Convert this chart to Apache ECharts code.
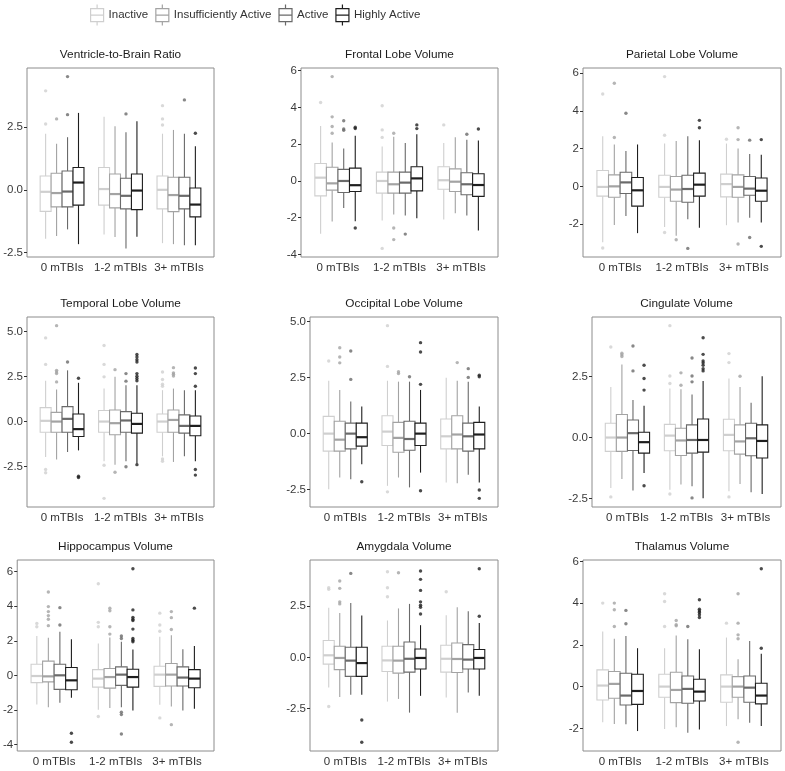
<!DOCTYPE html>
<html>
<head>
<meta charset="utf-8">
<script src="https://cdn.jsdelivr.net/npm/echarts@6/dist/echarts.min.js"></script>
<style>
  html, body { margin: 0; background: #fff; }
  #chart { width: 785px; height: 771px; }
</style>
</head>
<body>
<div id="chart"></div>
<script>
// categories
const groups = ['0 mTBIs', '1-2 mTBIs', '3+ mTBIs'];
const levels = ['Inactive', 'Insufficiently Active', 'Active', 'Highly Active'];

// each box: [lower whisker, Q1, median, Q3, upper whisker], per group then per level
// outliers: [group, level, value]
const ventricleBoxes = [
  [[-1.95, -0.86, -0.08, 0.55, 2.24], [-1.84, -0.68, -0.13, 0.66, 1.84], [-1.58, -0.68, -0.07, 0.75, 2.10], [-2.17, -0.61, 0.29, 0.89, 3.07]],
  [[-1.78, -0.61, 0.03, 0.89, 2.92], [-1.88, -0.72, -0.17, 0.63, 2.54], [-2.34, -0.76, -0.24, 0.46, 2.30], [-1.87, -0.79, -0.03, 0.63, 2.74]],
  [[-2.13, -0.76, 0.00, 0.55, 2.24], [-2.17, -0.87, -0.21, 0.50, 2.39], [-2.21, -0.76, -0.24, 0.50, 2.24], [-2.21, -1.08, -0.59, 0.07, 1.74]]
];
const ventricleOutliers = [[0, 0, 3.95], [0, 0, 2.63], [0, 1, 2.83], [0, 2, 4.52], [0, 2, 3.0], [1, 2, 3.03],
  [2, 0, 3.36], [2, 0, 2.83], [2, 0, 2.59], [2, 2, 3.59], [2, 3, 2.26]];
const ventricleTicks = ['-2.5', '0.0', '2.5'];

const frontalBoxes = [
  [[-2.87, -0.81, 0.18, 0.95, 2.99], [-2.20, -0.50, -0.13, 0.75, 2.10], [-1.47, -0.63, 0.00, 0.63, 1.77], [-2.19, -0.57, -0.23, 0.70, 2.46]],
  [[-2.15, -0.66, 0.00, 0.48, 1.88], [-1.83, -0.66, -0.18, 0.48, 2.40], [-1.88, -0.66, -0.09, 0.48, 2.06], [-2.03, -0.54, 0.14, 0.77, 2.54]],
  [[-2.10, -0.45, 0.04, 0.77, 2.06], [-1.76, -0.57, -0.04, 0.66, 2.38], [-1.88, -0.75, -0.18, 0.45, 2.24], [-2.69, -0.84, -0.22, 0.39, 2.20]]
];
const frontalOutliers = [[0, 0, 4.27], [0, 1, 5.68], [0, 1, 3.49], [0, 1, 2.96], [0, 1, 2.6], [0, 2, 3.28], [0, 2, 2.83], [0, 2, 2.76],
  [0, 3, 2.92], [0, 3, 2.85], [0, 3, -2.56], [1, 0, 4.09], [1, 0, 2.78], [1, 0, 2.37], [1, 0, -3.67], [1, 1, 2.6], [1, 1, -2.56],
  [1, 1, -3.19], [1, 2, -2.89], [1, 3, 3.05], [1, 3, 2.85], [2, 0, 3.05], [2, 2, 2.54], [2, 3, 2.83]];
const frontalTicks = ['-4', '-2', '0', '2', '4', '6'];

const parietalBoxes = [
  [[-2.97, -0.52, -0.03, 0.84, 2.66], [-2.05, -0.58, 0.00, 0.61, 2.22], [-1.57, -0.38, 0.21, 0.75, 1.87], [-2.48, -1.05, -0.21, 0.47, 2.22]],
  [[-2.15, -0.58, -0.03, 0.59, 2.27], [-2.62, -0.79, -0.17, 0.52, 2.40], [-1.75, -0.84, -0.14, 0.59, 2.66], [-2.19, -0.52, 0.09, 0.70, 2.45]],
  [[-2.06, -0.56, 0.12, 0.65, 2.27], [-1.92, -0.58, -0.03, 0.61, 2.01], [-1.66, -0.47, -0.12, 0.52, 1.71], [-1.92, -0.79, -0.23, 0.44, 1.68]]
];
const parietalOutliers = [[0, 0, 4.9], [0, 0, -3.27], [0, 1, 5.47], [0, 1, 2.59], [0, 2, 3.88], [1, 0, 5.82], [1, 0, 2.71], [1, 0, -2.45],
  [1, 1, -2.83], [1, 2, -3.29], [1, 3, 3.5], [1, 3, 3.11], [2, 0, 2.5], [2, 1, 3.11], [2, 1, 2.48], [2, 1, -3.06], [2, 2, 2.45],
  [2, 2, -2.71], [2, 3, 2.48], [2, 3, -3.18]];
const parietalTicks = ['-2', '0', '2', '4', '6'];

const temporalBoxes = [
  [[-1.96, -0.59, 0.04, 0.77, 2.26], [-2.11, -0.59, 0.00, 0.51, 1.78], [-1.69, -0.59, 0.15, 0.83, 2.84], [-1.60, -0.83, -0.42, 0.42, 2.15]],
  [[-2.20, -0.59, 0.00, 0.61, 1.83], [-2.39, -0.73, -0.09, 0.64, 2.48], [-2.20, -0.59, 0.06, 0.55, 2.02], [-2.33, -0.64, -0.13, 0.46, 2.02]],
  [[-1.93, -0.59, 0.00, 0.42, 1.74], [-2.24, -0.59, 0.09, 0.64, 1.83], [-1.93, -0.64, -0.24, 0.37, 1.74], [-2.20, -0.79, -0.24, 0.31, 1.74]]
];
const temporalOutliers = [[0, 0, 4.64], [0, 0, 3.17], [0, 0, -2.66], [0, 0, -2.84], [0, 1, 5.32], [0, 1, 2.84], [0, 1, 2.75], [0, 1, 2.66],
  [0, 1, 2.2], [0, 2, 3.3], [0, 3, 2.4], [0, 3, -3.03], [0, 3, -3.1],
  [1, 0, 4.22], [1, 0, 3.17], [1, 0, 2.48], [1, 0, -2.42], [1, 0, -4.26], [1, 1, 2.88], [1, 1, -2.81], [1, 2, 2.66], [1, 2, 2.24],
  [1, 2, -2.51], [1, 3, 3.72], [1, 3, 3.58], [1, 3, 3.43], [1, 3, 3.3], [1, 3, 2.66], [1, 3, 2.51], [1, 3, 2.39], [1, 3, 2.26], [1, 3, -2.39],
  [2, 0, 2.75], [2, 0, 2.33], [2, 0, 2.07], [2, 0, 1.96], [2, 0, -2.07], [2, 0, -2.2], [2, 1, 2.99], [2, 1, 2.7], [2, 1, 2.62], [2, 1, 2.53],
  [2, 3, 2.97], [2, 3, 2.66], [2, 3, 1.96], [2, 3, -2.66], [2, 3, -2.97]];
const temporalTicks = ['-2.5', '0.0', '2.5', '5.0'];

const occipitalBoxes = [
  [[-2.48, -0.78, 0.00, 0.77, 2.36], [-1.96, -0.78, -0.27, 0.55, 1.95], [-2.04, -0.68, 0.00, 0.47, 1.43], [-1.37, -0.56, -0.16, 0.47, 1.21]],
  [[-2.33, -0.53, 0.09, 0.80, 2.36], [-1.96, -0.83, -0.19, 0.50, 2.32], [-2.40, -0.74, -0.24, 0.55, 2.32], [-1.74, -0.53, 0.00, 0.47, 1.95]],
  [[-2.18, -0.68, -0.12, 0.65, 2.49], [-2.21, -0.68, -0.04, 0.80, 2.36], [-1.84, -0.78, -0.12, 0.47, 2.32], [-2.18, -0.68, -0.04, 0.50, 1.21]]
];
const occipitalOutliers = [[0, 0, 3.24], [0, 1, 3.83], [0, 1, 3.42], [0, 1, 3.16], [0, 2, 3.69], [0, 2, 2.42], [0, 3, -2.15],
  [1, 0, 4.82], [1, 0, 3.0], [1, 0, -2.6], [1, 1, 2.76], [1, 1, 2.68], [1, 2, 2.54], [1, 3, 4.06], [1, 3, 3.64], [1, 3, 2.2], [1, 3, -2.55],
  [2, 1, 3.17], [2, 2, 2.9], [2, 2, 2.51], [2, 3, 2.61], [2, 3, 2.54], [2, 3, -2.52], [2, 3, -2.89]];
const occipitalTicks = ['-2.5', '0.0', '2.5', '5.0'];

const cingulateBoxes = [
  [[-2.07, -0.57, 0.00, 0.59, 2.08], [-1.70, -0.57, 0.00, 0.95, 3.00], [-2.18, -0.53, 0.18, 0.72, 1.54], [-1.46, -0.64, -0.19, 0.22, 1.31]],
  [[-2.15, -0.54, 0.08, 0.54, 2.02], [-1.93, -0.74, -0.12, 0.38, 1.99], [-2.00, -0.64, -0.10, 0.52, 1.77], [-2.50, -0.60, -0.10, 0.76, 2.32]],
  [[-2.21, -0.54, 0.11, 0.75, 2.43], [-1.91, -0.68, -0.16, 0.52, 2.08], [-2.25, -0.75, -0.03, 0.59, 1.43], [-2.32, -0.84, -0.14, 0.52, 2.52]]
];
const cingulateOutliers = [[0, 0, 3.72], [0, 0, -2.44], [0, 1, 3.47], [0, 1, 3.4], [0, 1, 3.33], [0, 2, 3.76], [0, 2, 2.74], [0, 3, 2.97],
  [0, 3, 2.43], [0, 3, 1.95], [0, 3, -1.98],
  [1, 0, 4.6], [1, 0, 2.53], [1, 0, 2.22], [1, 0, -2.32], [1, 1, 2.66], [1, 1, 2.15], [1, 2, 3.27], [1, 2, 2.53], [1, 2, 2.29], [1, 2, -2.48],
  [1, 3, 4.1], [1, 3, 3.42], [1, 3, 3.15], [1, 3, 3.07], [1, 3, 2.97], [1, 3, 2.83], [1, 3, 2.74],
  [2, 0, 3.45], [2, 0, 3.08], [2, 0, -2.44], [2, 1, 2.52]];
const cingulateTicks = ['-2.5', '0.0', '2.5'];

const hippoBoxes = [
  [[-1.67, -0.41, -0.03, 0.65, 2.28], [-1.83, -0.37, -0.05, 0.83, 2.18], [-1.58, -0.80, 0.01, 0.65, 2.53], [-1.29, -0.82, -0.28, 0.46, 2.10]],
  [[-1.98, -0.67, -0.18, 0.34, 1.85], [-1.88, -0.73, -0.09, 0.40, 2.20], [-1.83, -0.57, 0.05, 0.50, 1.95], [-2.02, -0.67, -0.09, 0.36, 1.50]],
  [[-1.69, -0.63, 0.05, 0.53, 2.24], [-1.79, -0.61, 0.05, 0.69, 2.33], [-2.02, -0.61, -0.12, 0.50, 1.52], [-1.92, -0.71, -0.18, 0.34, 1.71]]
];
const hippoOutliers = [[0, 0, 3.01], [0, 0, 2.82], [0, 1, 4.82], [0, 1, 3.98], [0, 1, 3.69], [0, 1, 3.46], [0, 1, 3.25], [0, 1, 2.88],
  [0, 2, 3.92], [0, 2, 2.92], [0, 3, -3.34], [0, 3, -3.86],
  [1, 0, 5.3], [1, 0, 3.07], [1, 0, 2.82], [1, 0, -2.37], [1, 1, 3.89], [1, 1, 3.74], [1, 1, 2.82], [1, 1, 2.39], [1, 2, 2.28], [1, 2, 2.14],
  [1, 2, -2.12], [1, 2, -2.26], [1, 2, -3.38], [1, 3, 6.17], [1, 3, 3.79], [1, 3, 3.36], [1, 3, 3.25], [1, 3, 3.17], [1, 3, 2.68],
  [1, 3, 2.14], [1, 3, 2.04], [1, 3, 1.95],
  [2, 0, 3.6], [2, 0, 2.92], [2, 0, 2.56], [2, 0, -2.45], [2, 1, 3.69], [2, 1, 3.34], [2, 1, 2.66], [2, 1, -2.84], [2, 3, 3.89]];
const hippoTicks = ['-4', '-2', '0', '2', '4', '6'];

const amygdalaBoxes = [
  [[-1.47, -0.33, 0.10, 0.82, 2.42], [-1.94, -0.60, -0.03, 0.54, 2.17], [-1.83, -0.93, -0.16, 0.49, 2.66], [-1.83, -0.93, -0.28, 0.49, 2.04]],
  [[-2.16, -0.69, -0.15, 0.54, 1.80], [-2.03, -0.77, -0.16, 0.54, 2.39], [-2.70, -0.72, -0.07, 0.75, 2.61], [-1.88, -0.57, -0.03, 0.41, 1.57]],
  [[-1.96, -0.72, -0.07, 0.59, 2.06], [-2.70, -0.74, -0.08, 0.70, 2.45], [-1.72, -0.57, -0.11, 0.62, 2.25], [-1.88, -0.57, -0.03, 0.38, 1.68]]
];
const amygdalaOutliers = [[0, 0, 3.4], [0, 0, 3.32], [0, 0, -2.4], [0, 1, 3.73], [0, 1, 3.37], [0, 1, 2.71], [0, 1, 2.61], [0, 2, 4.1],
  [0, 3, -3.06], [0, 3, -4.15],
  [1, 0, 4.18], [1, 0, 3.4], [1, 0, 2.96], [1, 1, 4.13], [1, 3, 4.22], [1, 3, 3.81], [1, 3, 3.27], [1, 3, 2.71], [1, 3, 2.55], [1, 3, 2.45],
  [1, 3, 2.12], [2, 0, 3.2], [2, 3, 4.33], [2, 3, 2.01]];
const amygdalaTicks = ['-2.5', '0.0', '2.5'];

const thalamusBoxes = [
  [[-1.71, -0.64, 0.05, 0.80, 2.64], [-1.79, -0.56, 0.13, 0.72, 2.29], [-1.81, -0.88, -0.43, 0.64, 2.43], [-2.13, -0.85, -0.21, 0.59, 1.84]],
  [[-2.03, -0.51, 0.00, 0.59, 1.84], [-1.95, -0.77, -0.16, 0.69, 2.45], [-2.21, -0.80, -0.11, 0.51, 2.27], [-2.05, -0.69, -0.24, 0.35, 1.79]],
  [[-1.89, -0.75, 0.00, 0.56, 2.35], [-1.57, -0.51, 0.00, 0.48, 1.31], [-1.73, -0.75, -0.05, 0.51, 2.19], [-1.89, -0.83, -0.43, 0.16, 1.57]]
];
const thalamusOutliers = [[0, 0, 4.0], [0, 1, 4.0], [0, 1, 3.68], [0, 1, 2.88], [0, 2, 3.65], [0, 2, 3.01],
  [1, 0, 4.45], [1, 0, 4.08], [1, 0, 2.88], [1, 1, 3.17], [1, 1, 2.96], [1, 1, 2.91], [1, 2, 2.88], [1, 3, 4.16], [1, 3, 3.71],
  [1, 3, 3.62], [1, 3, 3.55], [1, 3, 3.44], [1, 3, 3.31],
  [2, 0, 3.04], [2, 1, 4.45], [2, 1, 3.04], [2, 1, 2.48], [2, 1, 2.29], [2, 1, -2.67], [2, 3, 5.65], [2, 3, 1.84]];
const thalamusTicks = ['-2', '0', '2', '4', '6'];

const panels = [
  { title: 'Ventricle-to-Brain Ratio', boxes: ventricleBoxes, outliers: ventricleOutliers, ticks: ventricleTicks },
  { title: 'Frontal Lobe Volume', boxes: frontalBoxes, outliers: frontalOutliers, ticks: frontalTicks },
  { title: 'Parietal Lobe Volume', boxes: parietalBoxes, outliers: parietalOutliers, ticks: parietalTicks },
  { title: 'Temporal Lobe Volume', boxes: temporalBoxes, outliers: temporalOutliers, ticks: temporalTicks },
  { title: 'Occipital Lobe Volume', boxes: occipitalBoxes, outliers: occipitalOutliers, ticks: occipitalTicks },
  { title: 'Cingulate Volume', boxes: cingulateBoxes, outliers: cingulateOutliers, ticks: cingulateTicks },
  { title: 'Hippocampus Volume', boxes: hippoBoxes, outliers: hippoOutliers, ticks: hippoTicks },
  { title: 'Amygdala Volume', boxes: amygdalaBoxes, outliers: amygdalaOutliers, ticks: amygdalaTicks },
  { title: 'Thalamus Volume', boxes: thalamusBoxes, outliers: thalamusOutliers, ticks: thalamusTicks }
];

// styling / layout
const levelColors = ['#cfcfcf', '#a3a3a3', '#6a6a6a', '#1e1e1e'];
const boxWidth = 0.1875;                      // in x units, 4 boxes dodged over 0.75
const offsets = [-1.5, -0.5, 0.5, 1.5].map(d => d * boxWidth);
const rowTop = [68, 317, 560];
const rowHeight = [189, 190, 191];
const colRight = [214, 498, 781];
const panelLeft = [27, 301, 583, 27, 310, 592, 17, 310, 583];
const font = '"Liberation Sans", Arial, sans-serif';
const boxIcon = 'path://M6.5,0L6.5,4M0,4L13,4L13,17L0,17ZM0,10.5L13,10.5M6.5,17L6.5,21';

// ggplot-like 5% expansion of the data range
function valueRange(boxes, outliers) {
  const vals = boxes.flat(2).concat(outliers.map(o => o[2]));
  const lo = Math.min(...vals), hi = Math.max(...vals);
  const pad = (hi - lo) * 0.05;
  return [lo - pad, hi + pad];
}

function boxRenderer(k) {
  return function (params, api) {
    const x = api.value(0) + offsets[k];
    const lo = api.coord([x, api.value(1)]);
    const q1 = api.coord([x, api.value(2)]);
    const md = api.coord([x, api.value(3)]);
    const q3 = api.coord([x, api.value(4)]);
    const hi = api.coord([x, api.value(5)]);
    const half = api.size([boxWidth, 0])[0] / 2;
    const c = levelColors[k];
    const line = { stroke: c, lineWidth: 1.1 };
    return {
      type: 'group',
      children: [
        { type: 'line', shape: { x1: lo[0], y1: lo[1], x2: q1[0], y2: q1[1] }, style: line },
        { type: 'line', shape: { x1: q3[0], y1: q3[1], x2: hi[0], y2: hi[1] }, style: line },
        { type: 'rect', shape: { x: q3[0] - half, y: q3[1], width: half * 2, height: q1[1] - q3[1] },
          style: { fill: '#fff', stroke: c, lineWidth: 1.1 } },
        { type: 'line', shape: { x1: md[0] - half, y1: md[1], x2: md[0] + half, y2: md[1] },
          style: { stroke: c, lineWidth: 2.2 } }
      ]
    };
  };
}

const grids = [], xAxes = [], yAxes = [], series = [], titles = [];

panels.forEach((p, i) => {
  const row = Math.floor(i / 3), col = i % 3;
  const left = panelLeft[i];
  const width = colRight[col] - left;
  const range = valueRange(p.boxes, p.outliers);
  const tickVals = p.ticks.map(Number);

  grids.push({
    left: left, top: rowTop[row], width: width, height: rowHeight[row],
    show: true, borderColor: '#8c8c8c', borderWidth: 1, backgroundColor: 'transparent'
  });

  xAxes.push({
    gridIndex: i, type: 'value', min: 0.4, max: 3.6,
    axisLine: { show: false }, splitLine: { show: false },
    axisTick: { show: true, customValues: [1, 2, 3], length: 3, lineStyle: { color: '#333' } },
    axisLabel: {
      customValues: [1, 2, 3], margin: 5, fontSize: 11.5, color: '#333', fontFamily: font,
      formatter: v => groups[Math.round(v) - 1]
    }
  });

  yAxes.push({
    gridIndex: i, type: 'value', min: range[0], max: range[1],
    axisLine: { show: false }, splitLine: { show: false },
    axisTick: { show: true, customValues: tickVals, length: 3, lineStyle: { color: '#333' } },
    axisLabel: {
      customValues: tickVals, margin: 4, fontSize: 11.5, color: '#3a3a3a', fontFamily: font,
      formatter: v => p.ticks[tickVals.findIndex(t => Math.abs(t - v) < 1e-9)]
    }
  });

  titles.push({
    type: 'text', x: left + width / 2, y: rowTop[row] - 13,
    style: {
      text: p.title, align: 'center', verticalAlign: 'middle', textAlign: 'center', textVerticalAlign: 'middle',
      font: '11.8px ' + font, fill: '#1a1a1a'
    }
  });

  levels.forEach((name, k) => {
    series.push({
      type: 'custom', name: name, xAxisIndex: i, yAxisIndex: i,
      data: p.boxes.map((g, gi) => [gi + 1].concat(g[k])),
      encode: { x: 0, y: [1, 2, 3, 4, 5] },
      renderItem: boxRenderer(k)
    });
    series.push({
      type: 'scatter', name: name, xAxisIndex: i, yAxisIndex: i,
      symbolSize: 3.4, itemStyle: { color: levelColors[k] },
      data: p.outliers.filter(o => o[1] === k).map(o => [o[0] + 1 + offsets[k], o[2]])
    });
  });
});

const chart = echarts.init(document.getElementById('chart'), null, { renderer: 'canvas' });
chart.setOption({
  animation: false,
  backgroundColor: '#fff',
  textStyle: { fontFamily: font },
  legend: {
    left: 90, top: 4, padding: 0, itemWidth: 13, itemHeight: 21, itemGap: 7,
    data: levels.map((name, k) => ({
      name: name, icon: boxIcon,
      itemStyle: { color: '#fff', borderColor: levelColors[k], borderWidth: 1.2 }
    })),
    textStyle: { fontSize: 11.5, color: '#333', fontFamily: font }
  },
  grid: grids,
  xAxis: xAxes,
  yAxis: yAxes,
  graphic: titles,
  series: series
});
</script>
</body>
</html>
